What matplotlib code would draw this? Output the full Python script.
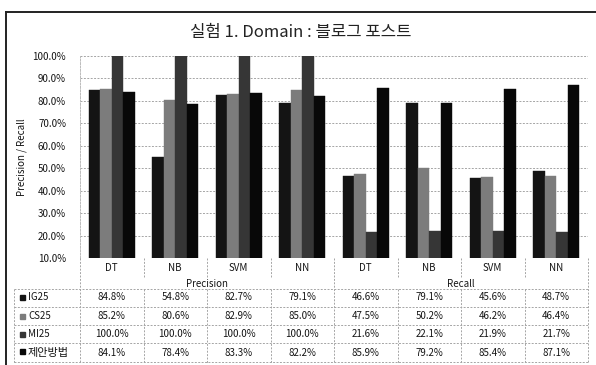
import matplotlib
matplotlib.use("Agg")
import matplotlib.pyplot as plt
from matplotlib.patches import Rectangle
from matplotlib.lines import Line2D

plt.rcParams['font.family'] = ['Noto Sans CJK KR', 'DejaVu Sans']

# ---- data ----
categories = ["DT", "NB", "SVM", "NN", "DT", "NB", "SVM", "NN"]
groups = ["Precision", "Recall"]
series_names = ["IG25", "CS25", "MI25", "제안방법"]
ig25 = [84.8, 54.8, 82.7, 79.1, 46.6, 79.1, 45.6, 48.7]
cs25 = [85.2, 80.6, 82.9, 85.0, 47.5, 50.2, 46.2, 46.4]
mi25 = [100.0, 100.0, 100.0, 100.0, 21.6, 22.1, 21.9, 21.7]
proposed = [84.1, 78.4, 83.3, 82.2, 85.9, 79.2, 85.4, 87.1]
y_ticks = [10, 20, 30, 40, 50, 60, 70, 80, 90, 100]

series = [ig25, cs25, mi25, proposed]
colors = ["#141414", "#7c7c7c", "#363636", "#080808"]
txt = "#151515"

W, H = 596, 365
fig = plt.figure(figsize=(W / 100, H / 100), dpi=100)

def fx(px):
    return px / W

def fy(py):
    return 1 - py / H

# outer frame
fig.add_artist(Line2D([fx(6), 1], [fy(12), fy(12)], color="#222222", lw=1.4))
fig.add_artist(Line2D([fx(6), fx(6)], [fy(12), 0], color="#222222", lw=1.4))

# ---- chart area ----
left_px, right_px, top_px, bot_px = 80, 588, 56, 258
ax = fig.add_axes([fx(left_px), fy(bot_px), fx(right_px - left_px), (bot_px - top_px) / H])
n = len(categories)
bw = 0.18
for i, (vals, c) in enumerate(zip(series, colors)):
    xs = [k + (i - 1.5) * bw for k in range(n)]
    ax.bar(xs, vals, width=bw, color=c, edgecolor=c, linewidth=0.3, zorder=3)

ax.set_xlim(-0.5, n - 0.5)
ax.set_ylim(10, 100)
ax.set_yticks(y_ticks)
ax.set_yticklabels([f"{v:.1f}%" for v in y_ticks], fontsize=7, color=txt)
ax.set_xticks([])
ax.tick_params(axis="y", length=0, pad=10)
ax.yaxis.grid(True, color="#a5a5a5", linestyle=(0, (2, 1.5)), linewidth=0.7, zorder=0)
for s in ["top", "right", "bottom"]:
    ax.spines[s].set_visible(False)
ax.spines["left"].set_color("#bbbbbb")
ax.spines["left"].set_linestyle((0, (2, 1.5)))
ax.spines["left"].set_linewidth(0.7)

fig.text(fx(22), fy(157), "Precision / Recall", rotation=90, ha="center", va="center",
         fontsize=7, color=txt)
fig.text(fx(301), fy(33), "실험 1. Domain : 블로그 포스트", ha="center", va="center",
         fontsize=12, color="#222222")

# ---- data table ----
tab_top, tab_bot = 258, 363
axt = fig.add_axes([fx(left_px), fy(tab_bot), fx(right_px - left_px), (tab_bot - tab_top) / H])
axt.set_xlim(-0.5, n - 0.5)
axt.set_ylim(tab_bot, tab_top)
axt.axis("off")

slot = (right_px - left_px) / n
x_lab = -0.5 - (left_px - 14) / slot   # left edge of the series label column
gridkw = dict(color="#a5a5a5", linestyle=(0, (2, 1.5)), linewidth=0.7, clip_on=False)

row_ys = [297, 316, 334, 353]
row_lines = [289, 307, 325, 343, 362]

# category row
for k, name in enumerate(categories):
    axt.text(k, 268, name, ha="center", va="center", fontsize=7, color=txt)
# group row
for g, name in enumerate(groups):
    axt.text(g * 4 + 1.5, 284, name, ha="center", va="center", fontsize=7, color=txt)

# vertical separators
for k in range(n + 1):
    xk = k - 0.5
    if k in (0, 4, n):
        axt.plot([xk, xk], [tab_top, tab_bot], **gridkw)
    else:
        axt.plot([xk, xk], [tab_top, 278], **gridkw)
        axt.plot([xk, xk], [row_lines[0], tab_bot], **gridkw)
axt.plot([x_lab, x_lab], [row_lines[0], tab_bot], **gridkw)

# horizontal separators
for yl in row_lines:
    axt.plot([x_lab, n - 0.5], [yl, yl], **gridkw)

# series rows
for r, (name, vals, c) in enumerate(zip(series_names, series, colors)):
    y = row_ys[r]
    axt.add_patch(Rectangle((x_lab + 0.1, y - 2.5 - (2 if r == 3 else 0)), 0.07, 5,
                            color=c, clip_on=False))
    axt.text(x_lab + 0.22, y, name, ha="left", va="center",
             fontsize=8 if r == 3 else 7, color=txt)
    for k, v in enumerate(vals):
        axt.text(k, y, f"{v:.1f}%", ha="center", va="center", fontsize=7, color=txt)

fig.savefig("out.png", dpi=100)
